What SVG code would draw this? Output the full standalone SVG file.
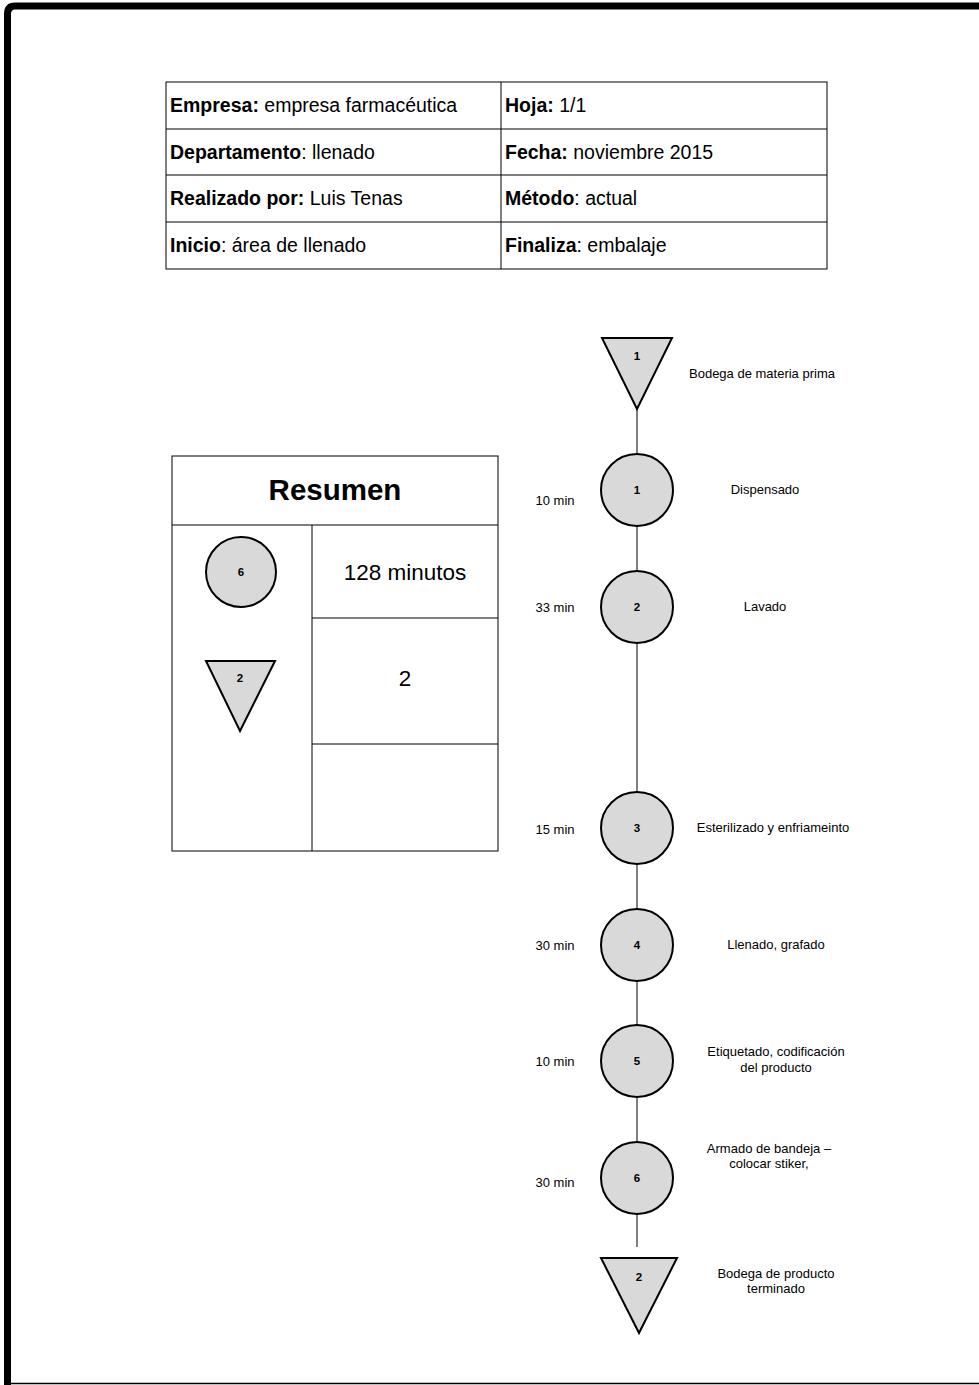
<svg xmlns="http://www.w3.org/2000/svg" width="979" height="1385" viewBox="0 0 979 1385">
<style>
text{font-family:"Liberation Sans",Arial,sans-serif;fill:#000}
.cell{fill:none;stroke:#000;stroke-width:1}
.sym{fill:#d9d9d9;stroke:#000;stroke-width:2}
.num{font-size:11.5px;font-weight:bold;text-anchor:middle;dominant-baseline:central}
.lbl{font-size:13px;text-anchor:middle}
.tm{font-size:13px;text-anchor:middle;dominant-baseline:central}
.tt{font-size:19.5px}
.conn{stroke:#000;stroke-width:1;fill:none}
</style>
<rect width="979" height="1385" fill="#fff"/>
<g id="border">
<path d="M7.5,1385 V14 Q7.5,6 15,6 H979" fill="none" stroke="#000" stroke-width="7"/>
<line x1="11" y1="1383.5" x2="979" y2="1383.5" stroke="#000" stroke-width="1.5"/>
</g>
<g id="header-table">
<rect class="cell" x="166" y="82" width="661" height="187"/>
<line class="cell" x1="501" y1="82" x2="501" y2="269"/>
<line class="cell" x1="166" y1="129" x2="827" y2="129"/>
<line class="cell" x1="166" y1="175" x2="827" y2="175"/>
<line class="cell" x1="166" y1="222" x2="827" y2="222"/>
<text class="tt" x="170" y="112"><tspan font-weight="bold">Empresa:</tspan> empresa farmacéutica</text>
<text class="tt" x="505" y="112"><tspan font-weight="bold">Hoja:</tspan> 1/1</text>
<text class="tt" x="170" y="159"><tspan font-weight="bold">Departamento</tspan>: llenado</text>
<text class="tt" x="505" y="159"><tspan font-weight="bold">Fecha:</tspan> noviembre 2015</text>
<text class="tt" x="170" y="205"><tspan font-weight="bold">Realizado por:</tspan> Luis Tenas</text>
<text class="tt" x="505" y="205"><tspan font-weight="bold">Método</tspan>: actual</text>
<text class="tt" x="170" y="252"><tspan font-weight="bold">Inicio</tspan>: área de llenado</text>
<text class="tt" x="505" y="252"><tspan font-weight="bold">Finaliza</tspan>: embalaje</text>
</g>
<g id="summary">
<rect class="cell" x="172" y="456" width="326" height="395"/>
<line class="cell" x1="172" y1="525" x2="498" y2="525"/>
<line class="cell" x1="312" y1="525" x2="312" y2="851"/>
<line class="cell" x1="312" y1="618" x2="498" y2="618"/>
<line class="cell" x1="312" y1="744" x2="498" y2="744"/>
<text x="335" y="500" font-size="29.5" font-weight="bold" text-anchor="middle">Resumen</text>
<circle class="sym" cx="241" cy="572" r="35"/>
<text class="num" x="241" y="572">6</text>
<text x="405" y="580" font-size="22.5" text-anchor="middle">128 minutos</text>
<polygon class="sym" points="206,661 275,661 240,731"/>
<text class="num" x="240" y="678">2</text>
<text x="405" y="686" font-size="22.5" text-anchor="middle">2</text>
</g>
<g id="connectors">
<line class="conn" x1="637" y1="409" x2="637" y2="1247"/>
</g>
<g id="store1">
<polygon class="sym" points="602,338 672,338 637,409"/>
<text class="num" x="637" y="356">1</text>
<text class="lbl" x="762" y="378">Bodega de materia prima</text>
</g>
<g id="op1">
<circle class="sym" cx="637" cy="490" r="36"/>
<text class="num" x="637" y="490">1</text>
<text class="tm" x="555" y="500">10 min</text>
<text class="lbl" x="765" y="494">Dispensado</text>
</g>
<g id="op2">
<circle class="sym" cx="637" cy="607" r="36"/>
<text class="num" x="637" y="607">2</text>
<text class="tm" x="555" y="607">33 min</text>
<text class="lbl" x="765" y="611">Lavado</text>
</g>
<g id="op3">
<circle class="sym" cx="637" cy="828" r="36"/>
<text class="num" x="637" y="828">3</text>
<text class="tm" x="555" y="829">15 min</text>
<text class="lbl" x="773" y="832">Esterilizado y enfriameinto</text>
</g>
<g id="op4">
<circle class="sym" cx="637" cy="945" r="36"/>
<text class="num" x="637" y="945">4</text>
<text class="tm" x="555" y="945">30 min</text>
<text class="lbl" x="776" y="949">Llenado, grafado</text>
</g>
<g id="op5">
<circle class="sym" cx="637" cy="1061" r="36"/>
<text class="num" x="637" y="1061">5</text>
<text class="tm" x="555" y="1061">10 min</text>
<text class="lbl" x="776" y="1056">Etiquetado, codificación</text>
<text class="lbl" x="776" y="1072">del producto</text>
</g>
<g id="op6">
<circle class="sym" cx="637" cy="1178" r="36"/>
<text class="num" x="637" y="1178">6</text>
<text class="tm" x="555" y="1182">30 min</text>
<text class="lbl" x="769" y="1153">Armado de bandeja –</text>
<text class="lbl" x="769" y="1168">colocar stiker,</text>
</g>
<g id="store2">
<polygon class="sym" points="601,1258 677,1258 639,1333"/>
<text class="num" x="639" y="1277">2</text>
<text class="lbl" x="776" y="1278">Bodega de producto</text>
<text class="lbl" x="776" y="1293">terminado</text>
</g>
</svg>
